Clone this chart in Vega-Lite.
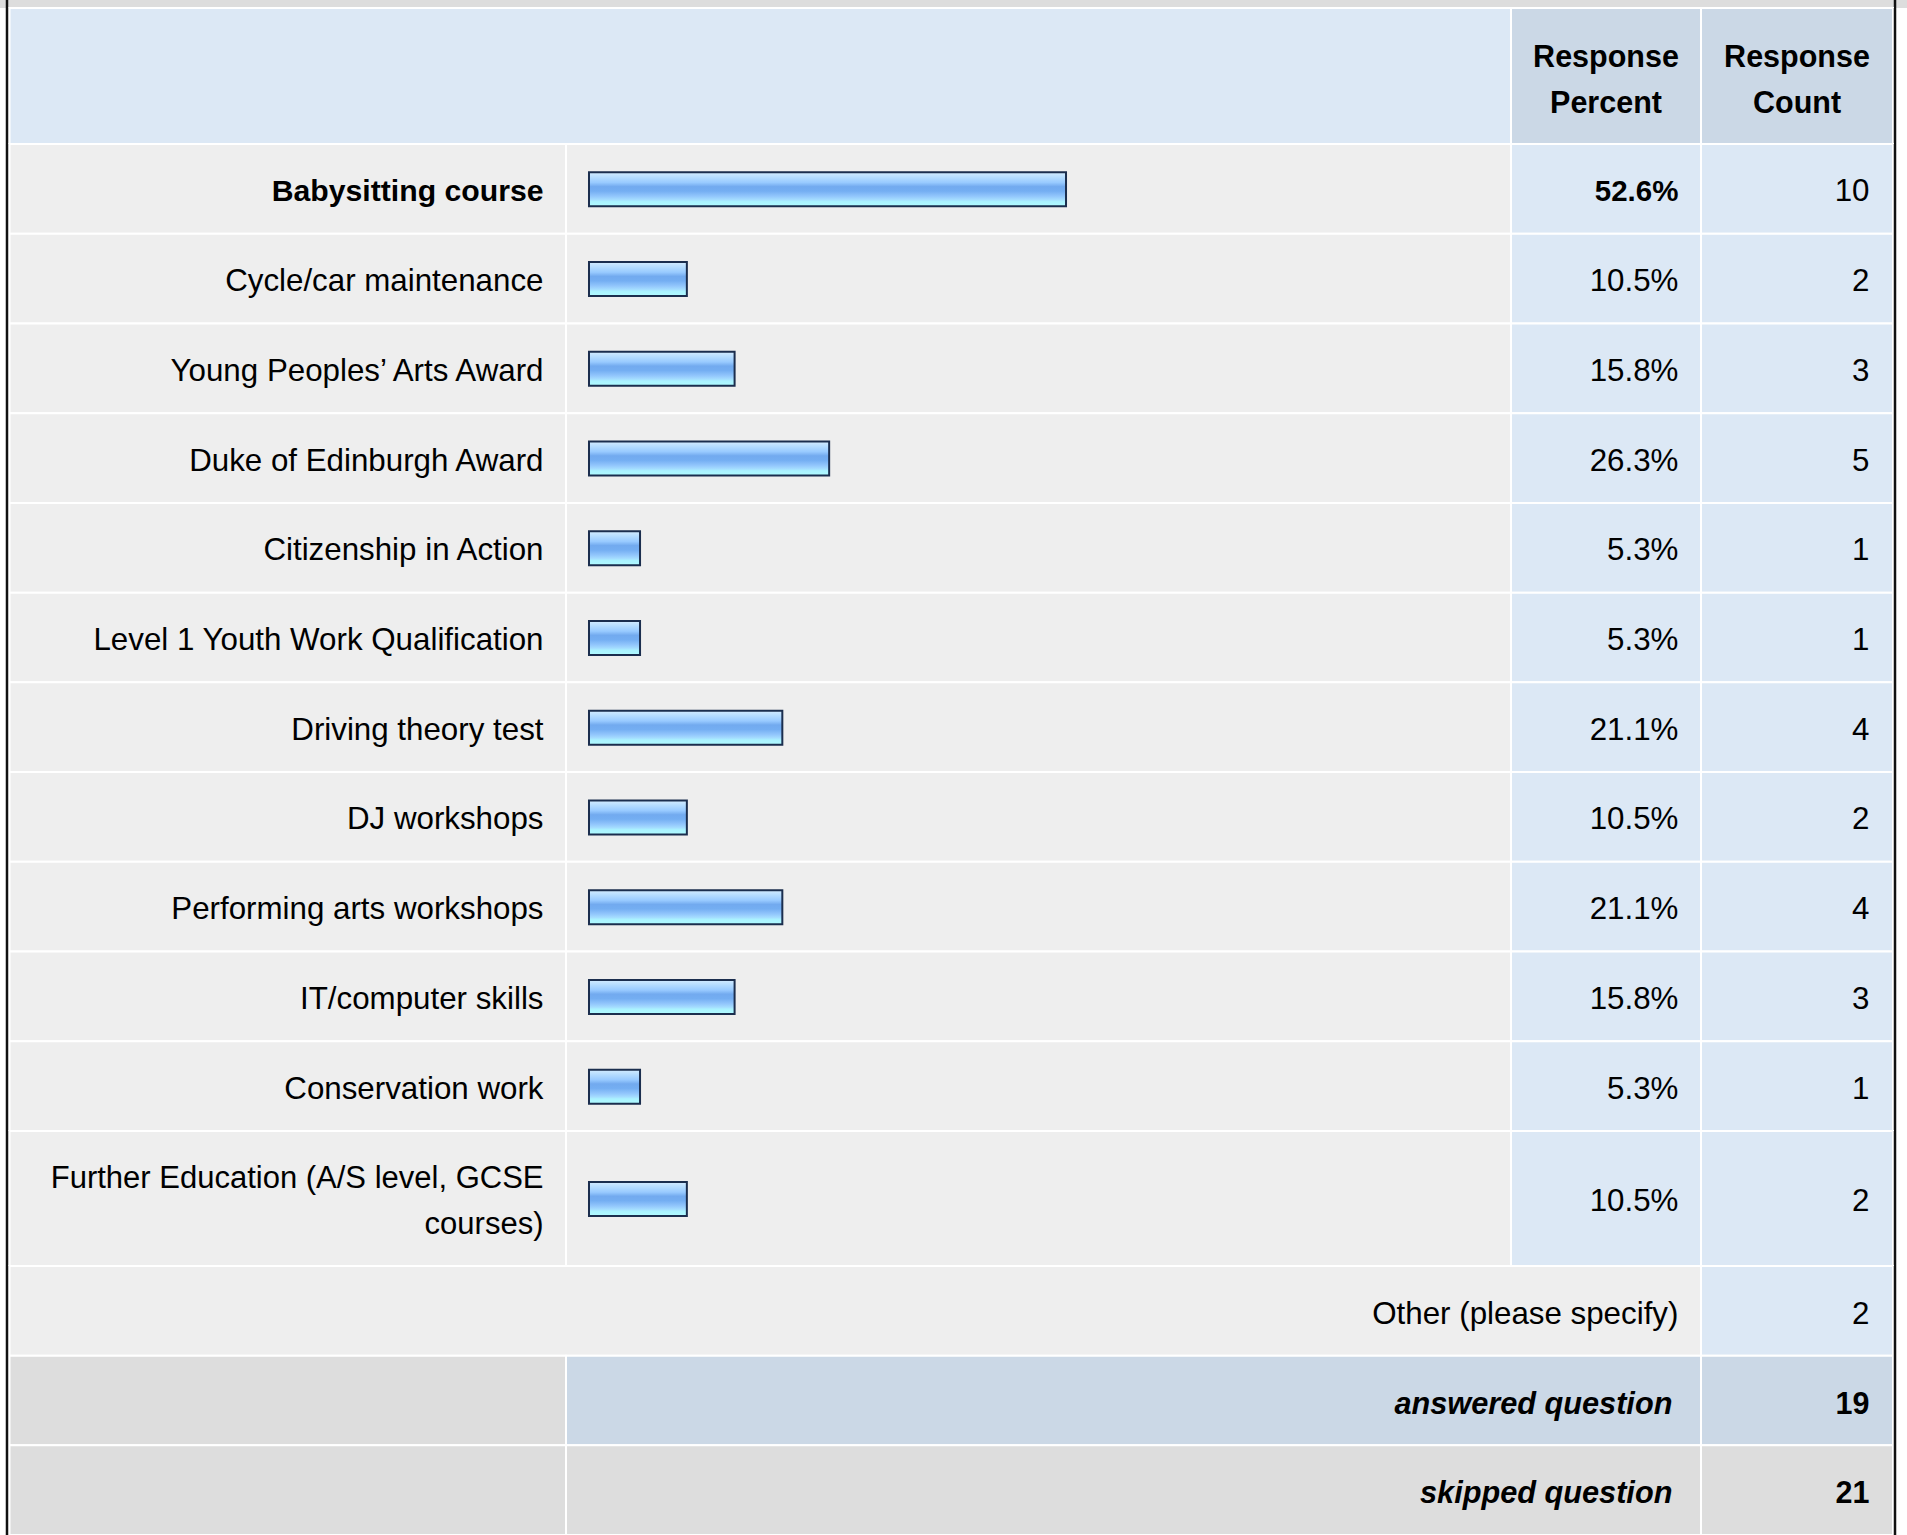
{
  "$schema": "https://vega.github.io/schema/vega-lite/v6.json",
  "padding": 0,
  "background": "#ffffff",
  "spacing": 0,
  "bounds": "flush",
  "config": {
    "view": {"stroke": null},
    "font": "Liberation Sans",
    "text": {"font": "Liberation Sans", "color": "#000000"}
  },
  "datasets": {
    "body": [
      {"answer": "Babysitting course", "pct": 0.526, "count": 10},
      {"answer": "Cycle/car maintenance", "pct": 0.105, "count": 2},
      {"answer": "Young Peoples’ Arts Award", "pct": 0.158, "count": 3},
      {"answer": "Duke of Edinburgh Award", "pct": 0.263, "count": 5},
      {"answer": "Citizenship in Action", "pct": 0.053, "count": 1},
      {"answer": "Level 1 Youth Work Qualification", "pct": 0.053, "count": 1},
      {"answer": "Driving theory test", "pct": 0.211, "count": 4},
      {"answer": "DJ workshops", "pct": 0.105, "count": 2},
      {"answer": "Performing arts workshops", "pct": 0.211, "count": 4},
      {"answer": "IT/computer skills", "pct": 0.158, "count": 3},
      {"answer": "Conservation work", "pct": 0.053, "count": 1}
    ],
    "wrapped": [
      {"answer": "Further Education (A/S level, GCSE\ncourses)", "pct": 0.105, "count": 2}
    ],
    "totals": [
      {"label": "Other (please specify)", "count": 2, "kind": "other"},
      {"label": "answered question", "count": 19, "kind": "answered"},
      {"label": "skipped question", "count": 21, "kind": "skipped"}
    ],
    "frame": [{"edge": "both"}]
  },
  "vconcat": [
    {
      "width": 1907,
      "height": 8,
      "data": {"name": "frame"},
      "layer": [
        {"mark": {"type": "rect", "fill": "#dddddd"},
         "encoding": {"x": {"datum": -0.65767, "type": "quantitative", "scale": {"domain": [-0.65767, 1.45980], "nice": false, "zero": false}, "axis": null}, "x2": {"datum": 1.45980}}},
        {"mark": {"type": "rect", "fill": "#111111"},
         "encoding": {"x": {"datum": -0.65129, "type": "quantitative", "axis": null}, "x2": {"datum": -0.64851}}},
        {"mark": {"type": "rect", "fill": "#111111"},
         "encoding": {"x": {"datum": 1.44509, "type": "quantitative", "axis": null}, "x2": {"datum": 1.44787}}}
      ]
    },
    {
      "width": 1907,
      "height": 136,
      "data": {"name": "frame"},
      "layer": [
        {"mark": {"type": "rect", "fill": "#dce8f5", "stroke": "#ffffff", "strokeWidth": 2},
         "encoding": {"x": {"datum": -0.64712, "type": "quantitative", "scale": {"domain": [-0.65767, 1.45980], "nice": false, "zero": false}, "axis": null}, "x2": {"datum": 1.02010}}},
        {"mark": {"type": "rect", "fill": "#cbd8e6", "stroke": "#ffffff", "strokeWidth": 2},
         "encoding": {"x": {"datum": 1.02010, "type": "quantitative", "axis": null}, "x2": {"datum": 1.23107}}},
        {"mark": {"type": "rect", "fill": "#cbd8e6", "stroke": "#ffffff", "strokeWidth": 2},
         "encoding": {"x": {"datum": 1.23107, "type": "quantitative", "axis": null}, "x2": {"datum": 1.44426}}},
        {"mark": {"type": "text", "text": ["Response", "Percent"], "fontSize": 30.5, "fontWeight": "bold", "align": "center", "baseline": "middle", "lineHeight": 46, "dy": -18.5},
         "encoding": {"x": {"datum": 1.12558, "type": "quantitative", "axis": null}}},
        {"mark": {"type": "text", "text": ["Response", "Count"], "fontSize": 30.5, "fontWeight": "bold", "align": "center", "baseline": "middle", "lineHeight": 46, "dy": -18.5},
         "encoding": {"x": {"datum": 1.33766, "type": "quantitative", "axis": null}}},
        {"mark": {"type": "rect", "fill": "#111111"},
         "encoding": {"x": {"datum": -0.65129, "type": "quantitative", "axis": null}, "x2": {"datum": -0.64851}}},
        {"mark": {"type": "rect", "fill": "#111111"},
         "encoding": {"x": {"datum": 1.44509, "type": "quantitative", "axis": null}, "x2": {"datum": 1.44787}}}
      ]
    },
    {
      "width": 1907,
      "height": 987,
      "layer": [
        {"data": {"name": "body"},
         "mark": {"type": "rect", "fill": "#eeeeee", "stroke": "#ffffff", "strokeWidth": 2},
         "encoding": {"y": {"field": "answer", "type": "nominal", "sort": null, "axis": null, "scale": {"paddingInner": 0, "paddingOuter": 0}},
                      "x": {"datum": -0.64712, "type": "quantitative", "scale": {"domain": [-0.65767, 1.45980], "nice": false, "zero": false}, "axis": null}, "x2": {"datum": -0.02920}}},
        {"data": {"name": "body"},
         "mark": {"type": "rect", "fill": "#eeeeee", "stroke": "#ffffff", "strokeWidth": 2},
         "encoding": {"y": {"field": "answer", "type": "nominal", "sort": null, "axis": null},
                      "x": {"datum": -0.02920, "type": "quantitative", "axis": null}, "x2": {"datum": 1.02010}}},
        {"data": {"name": "body"},
         "mark": {"type": "rect", "fill": "#dce8f5", "stroke": "#ffffff", "strokeWidth": 2},
         "encoding": {"y": {"field": "answer", "type": "nominal", "sort": null, "axis": null},
                      "x": {"datum": 1.02010, "type": "quantitative", "axis": null}, "x2": {"datum": 1.23107}}},
        {"data": {"name": "body"},
         "mark": {"type": "rect", "fill": "#dce8f5", "stroke": "#ffffff", "strokeWidth": 2},
         "encoding": {"y": {"field": "answer", "type": "nominal", "sort": null, "axis": null},
                      "x": {"datum": 1.23107, "type": "quantitative", "axis": null}, "x2": {"datum": 1.44426}}},
        {"data": {"name": "body"},
         "mark": {"type": "bar", "height": 34, "stroke": "#1b2e4e", "strokeWidth": 2, "x2Offset": -3.3, "yOffset": 0.5,
                  "fill": {"gradient": "linear", "x1": 0, "y1": 0, "x2": 0, "y2": 1,
                           "stops": [
                             {"offset": 0, "color": "#d4ecff"},
                             {"offset": 0.15, "color": "#b4dcff"},
                             {"offset": 0.3, "color": "#98caff"},
                             {"offset": 0.42, "color": "#72aaef"},
                             {"offset": 0.55, "color": "#74aef2"},
                             {"offset": 0.7, "color": "#92c6fc"},
                             {"offset": 0.8, "color": "#a4dcff"},
                             {"offset": 0.86, "color": "#aaf2ff"},
                             {"offset": 1, "color": "#b0fbff"}]}},
         "encoding": {"y": {"field": "answer", "type": "nominal", "sort": null, "axis": null},
                      "x": {"field": "pct", "type": "quantitative", "axis": null}, "x2": {"datum": 0}}},
        {"data": {"name": "body"},
         "transform": [{"joinaggregate": [{"op": "max", "field": "pct", "as": "maxpct"}]}, {"filter": "datum.pct < datum.maxpct"}],
         "mark": {"type": "text", "fontSize": 31.3, "align": "right", "baseline": "middle", "dy": 3.5},
         "encoding": {"y": {"field": "answer", "type": "nominal", "sort": null, "axis": null},
                      "x": {"datum": -0.05419, "type": "quantitative", "axis": null}, "text": {"field": "answer", "type": "nominal"}}},
        {"data": {"name": "body"},
         "transform": [{"joinaggregate": [{"op": "max", "field": "pct", "as": "maxpct"}]}, {"filter": "datum.pct == datum.maxpct"}],
         "mark": {"type": "text", "fontSize": 30.2, "fontWeight": "bold", "align": "right", "baseline": "middle", "dy": 3.5},
         "encoding": {"y": {"field": "answer", "type": "nominal", "sort": null, "axis": null},
                      "x": {"datum": -0.05419, "type": "quantitative", "axis": null}, "text": {"field": "answer", "type": "nominal"}}},
        {"data": {"name": "body"},
         "transform": [{"joinaggregate": [{"op": "max", "field": "pct", "as": "maxpct"}]}, {"filter": "datum.pct < datum.maxpct"}],
         "mark": {"type": "text", "fontSize": 31.3, "align": "right", "baseline": "middle", "dy": 3.5},
         "encoding": {"y": {"field": "answer", "type": "nominal", "sort": null, "axis": null},
                      "x": {"datum": 1.20597, "type": "quantitative", "axis": null}, "text": {"field": "pct", "type": "quantitative", "format": ".1%"}}},
        {"data": {"name": "body"},
         "transform": [{"joinaggregate": [{"op": "max", "field": "pct", "as": "maxpct"}]}, {"filter": "datum.pct == datum.maxpct"}],
         "mark": {"type": "text", "fontSize": 29.5, "fontWeight": "bold", "align": "right", "baseline": "middle", "dy": 3.5},
         "encoding": {"y": {"field": "answer", "type": "nominal", "sort": null, "axis": null},
                      "x": {"datum": 1.20597, "type": "quantitative", "axis": null}, "text": {"field": "pct", "type": "quantitative", "format": ".1%"}}},
        {"data": {"name": "body"},
         "mark": {"type": "text", "fontSize": 31.3, "align": "right", "baseline": "middle", "dy": 3.5},
         "encoding": {"y": {"field": "answer", "type": "nominal", "sort": null, "axis": null},
                      "x": {"datum": 1.41818, "type": "quantitative", "axis": null}, "text": {"field": "count", "type": "quantitative"}}},
        {"data": {"name": "frame"}, "mark": {"type": "rect", "fill": "#111111"},
         "encoding": {"x": {"datum": -0.65129, "type": "quantitative", "axis": null}, "x2": {"datum": -0.64851}}},
        {"data": {"name": "frame"}, "mark": {"type": "rect", "fill": "#111111"},
         "encoding": {"x": {"datum": 1.44509, "type": "quantitative", "axis": null}, "x2": {"datum": 1.44787}}}
      ]
    },
    {
      "width": 1907,
      "height": 135,
      "layer": [
        {"data": {"name": "wrapped"},
         "mark": {"type": "rect", "fill": "#eeeeee", "stroke": "#ffffff", "strokeWidth": 2},
         "encoding": {"y": {"field": "answer", "type": "nominal", "sort": null, "axis": null, "scale": {"paddingInner": 0, "paddingOuter": 0}},
                      "x": {"datum": -0.64712, "type": "quantitative", "scale": {"domain": [-0.65767, 1.45980], "nice": false, "zero": false}, "axis": null}, "x2": {"datum": -0.02920}}},
        {"data": {"name": "wrapped"},
         "mark": {"type": "rect", "fill": "#eeeeee", "stroke": "#ffffff", "strokeWidth": 2},
         "encoding": {"y": {"field": "answer", "type": "nominal", "sort": null, "axis": null},
                      "x": {"datum": -0.02920, "type": "quantitative", "axis": null}, "x2": {"datum": 1.02010}}},
        {"data": {"name": "wrapped"},
         "mark": {"type": "rect", "fill": "#dce8f5", "stroke": "#ffffff", "strokeWidth": 2},
         "encoding": {"y": {"field": "answer", "type": "nominal", "sort": null, "axis": null},
                      "x": {"datum": 1.02010, "type": "quantitative", "axis": null}, "x2": {"datum": 1.23107}}},
        {"data": {"name": "wrapped"},
         "mark": {"type": "rect", "fill": "#dce8f5", "stroke": "#ffffff", "strokeWidth": 2},
         "encoding": {"y": {"field": "answer", "type": "nominal", "sort": null, "axis": null},
                      "x": {"datum": 1.23107, "type": "quantitative", "axis": null}, "x2": {"datum": 1.44426}}},
        {"data": {"name": "wrapped"},
         "mark": {"type": "bar", "height": 34, "stroke": "#1b2e4e", "strokeWidth": 2, "x2Offset": -3.3, "yOffset": 0.5,
                  "fill": {"gradient": "linear", "x1": 0, "y1": 0, "x2": 0, "y2": 1,
                           "stops": [
                             {"offset": 0, "color": "#d4ecff"},
                             {"offset": 0.15, "color": "#b4dcff"},
                             {"offset": 0.3, "color": "#98caff"},
                             {"offset": 0.42, "color": "#72aaef"},
                             {"offset": 0.55, "color": "#74aef2"},
                             {"offset": 0.7, "color": "#92c6fc"},
                             {"offset": 0.8, "color": "#a4dcff"},
                             {"offset": 0.86, "color": "#aaf2ff"},
                             {"offset": 1, "color": "#b0fbff"}]}},
         "encoding": {"y": {"field": "answer", "type": "nominal", "sort": null, "axis": null},
                      "x": {"field": "pct", "type": "quantitative", "axis": null}, "x2": {"datum": 0}}},
        {"data": {"name": "wrapped"},
         "mark": {"type": "text", "fontSize": 31, "align": "right", "baseline": "middle", "lineBreak": "\n", "lineHeight": 46, "dy": -19.5},
         "encoding": {"y": {"field": "answer", "type": "nominal", "sort": null, "axis": null},
                      "x": {"datum": -0.05419, "type": "quantitative", "axis": null}, "text": {"field": "answer", "type": "nominal"}}},
        {"data": {"name": "wrapped"},
         "mark": {"type": "text", "fontSize": 31.3, "align": "right", "baseline": "middle", "dy": 3.5},
         "encoding": {"y": {"field": "answer", "type": "nominal", "sort": null, "axis": null},
                      "x": {"datum": 1.20597, "type": "quantitative", "axis": null}, "text": {"field": "pct", "type": "quantitative", "format": ".1%"}}},
        {"data": {"name": "wrapped"},
         "mark": {"type": "text", "fontSize": 31.3, "align": "right", "baseline": "middle", "dy": 3.5},
         "encoding": {"y": {"field": "answer", "type": "nominal", "sort": null, "axis": null},
                      "x": {"datum": 1.41818, "type": "quantitative", "axis": null}, "text": {"field": "count", "type": "quantitative"}}},
        {"data": {"name": "frame"}, "mark": {"type": "rect", "fill": "#111111"},
         "encoding": {"x": {"datum": -0.65129, "type": "quantitative", "axis": null}, "x2": {"datum": -0.64851}}},
        {"data": {"name": "frame"}, "mark": {"type": "rect", "fill": "#111111"},
         "encoding": {"x": {"datum": 1.44509, "type": "quantitative", "axis": null}, "x2": {"datum": 1.44787}}}
      ]
    },
    {
      "width": 1907,
      "height": 269,
      "layer": [
        {"data": {"name": "totals"},
         "mark": {"type": "rect", "stroke": "#ffffff", "strokeWidth": 2},
         "encoding": {"y": {"field": "label", "type": "nominal", "sort": null, "axis": null, "scale": {"paddingInner": 0, "paddingOuter": 0}},
                      "x": {"datum": 1.23107, "type": "quantitative", "scale": {"domain": [-0.65767, 1.45980], "nice": false, "zero": false}, "axis": null}, "x2": {"datum": 1.44426},
                      "fill": {"field": "kind", "type": "nominal", "legend": null, "scale": {"domain": ["other", "answered", "skipped"], "range": ["#dce8f5", "#cbd8e6", "#dddddd"]}}}},
        {"data": {"name": "totals"},
         "transform": [{"filter": "datum.kind == 'other'"}],
         "mark": {"type": "rect", "fill": "#eeeeee", "stroke": "#ffffff", "strokeWidth": 2},
         "encoding": {"y": {"field": "label", "type": "nominal", "sort": null, "axis": null},
                      "x": {"datum": -0.64712, "type": "quantitative", "axis": null}, "x2": {"datum": 1.23107}}},
        {"data": {"name": "totals"},
         "transform": [{"filter": "datum.kind != 'other'"}],
         "mark": {"type": "rect", "fill": "#dddddd", "stroke": "#ffffff", "strokeWidth": 2},
         "encoding": {"y": {"field": "label", "type": "nominal", "sort": null, "axis": null},
                      "x": {"datum": -0.64712, "type": "quantitative", "axis": null}, "x2": {"datum": -0.02920}}},
        {"data": {"name": "totals"},
         "transform": [{"filter": "datum.kind == 'answered'"}],
         "mark": {"type": "rect", "fill": "#cbd8e6", "stroke": "#ffffff", "strokeWidth": 2},
         "encoding": {"y": {"field": "label", "type": "nominal", "sort": null, "axis": null},
                      "x": {"datum": -0.02920, "type": "quantitative", "axis": null}, "x2": {"datum": 1.23107}}},
        {"data": {"name": "totals"},
         "transform": [{"filter": "datum.kind == 'skipped'"}],
         "mark": {"type": "rect", "fill": "#dddddd", "stroke": "#ffffff", "strokeWidth": 2},
         "encoding": {"y": {"field": "label", "type": "nominal", "sort": null, "axis": null},
                      "x": {"datum": -0.02920, "type": "quantitative", "axis": null}, "x2": {"datum": 1.23107}}},
        {"data": {"name": "totals"},
         "transform": [{"filter": "datum.kind == 'other'"}],
         "mark": {"type": "text", "fontSize": 31.3, "align": "right", "baseline": "middle", "dy": 4},
         "encoding": {"y": {"field": "label", "type": "nominal", "sort": null, "axis": null},
                      "x": {"datum": 1.20597, "type": "quantitative", "axis": null}, "text": {"field": "label", "type": "nominal"}}},
        {"data": {"name": "totals"},
         "transform": [{"filter": "datum.kind != 'other'"}],
         "mark": {"type": "text", "fontSize": 30.7, "fontWeight": "bold", "fontStyle": "italic", "align": "right", "baseline": "middle", "dy": 4},
         "encoding": {"y": {"field": "label", "type": "nominal", "sort": null, "axis": null},
                      "x": {"datum": 1.19931, "type": "quantitative", "axis": null}, "text": {"field": "label", "type": "nominal"}}},
        {"data": {"name": "totals"},
         "transform": [{"filter": "datum.kind == 'other'"}],
         "mark": {"type": "text", "fontSize": 31.3, "align": "right", "baseline": "middle", "dy": 4},
         "encoding": {"y": {"field": "label", "type": "nominal", "sort": null, "axis": null},
                      "x": {"datum": 1.41818, "type": "quantitative", "axis": null}, "text": {"field": "count", "type": "quantitative"}}},
        {"data": {"name": "totals"},
         "transform": [{"filter": "datum.kind != 'other'"}],
         "mark": {"type": "text", "fontSize": 30.5, "fontWeight": "bold", "align": "right", "baseline": "middle", "dy": 4},
         "encoding": {"y": {"field": "label", "type": "nominal", "sort": null, "axis": null},
                      "x": {"datum": 1.41818, "type": "quantitative", "axis": null}, "text": {"field": "count", "type": "quantitative"}}},
        {"data": {"name": "frame"}, "mark": {"type": "rect", "fill": "#111111"},
         "encoding": {"x": {"datum": -0.65129, "type": "quantitative", "axis": null}, "x2": {"datum": -0.64851}}},
        {"data": {"name": "frame"}, "mark": {"type": "rect", "fill": "#111111"},
         "encoding": {"x": {"datum": 1.44509, "type": "quantitative", "axis": null}, "x2": {"datum": 1.44787}}}
      ]
    }
  ]
}
